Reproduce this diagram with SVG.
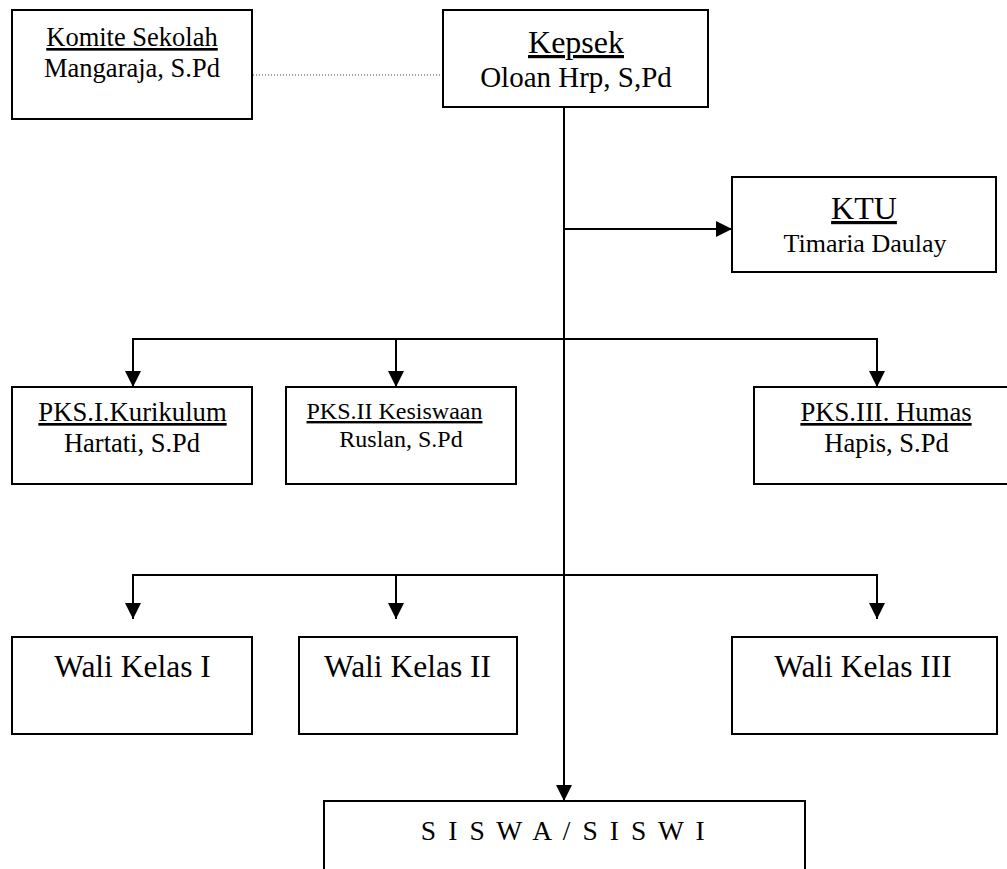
<svg xmlns="http://www.w3.org/2000/svg" width="1007" height="869" viewBox="0 0 1007 869">
<style>
.box{fill:#fff;stroke:#000;stroke-width:2}
.t{font-family:"Liberation Serif","Times New Roman",serif;fill:#000;text-anchor:middle}
.u{text-decoration:underline}
.c{fill:none;stroke:#000;stroke-width:2}
.dot{fill:none;stroke:#444;stroke-width:1;stroke-dasharray:1 2}
</style>
<defs>
<marker id="ah" markerUnits="userSpaceOnUse" markerWidth="16" markerHeight="16" refX="16" refY="8" orient="auto" viewBox="0 0 16 16">
<path d="M0,0 L16,8 L0,16 z" fill="#000"/>
</marker>
</defs>
<rect width="1007" height="869" fill="#fff"/>
<g id="connectors">
<path class="dot" d="M253,75 H443"/>
<path class="c" d="M564,107 V801" marker-end="url(#ah)"/>
<path class="c" d="M564,229 H732" marker-end="url(#ah)"/>
<path class="c" d="M564,339 H133 V387" marker-end="url(#ah)"/>
<path class="c" d="M396,339 V387" marker-end="url(#ah)"/>
<path class="c" d="M564,339 H877 V387" marker-end="url(#ah)"/>
<path class="c" d="M564,575 H133 V619" marker-end="url(#ah)"/>
<path class="c" d="M396,575 V619" marker-end="url(#ah)"/>
<path class="c" d="M564,575 H877 V619" marker-end="url(#ah)"/>
</g>
<g id="komite">
<rect class="box" x="12" y="10" width="240" height="109"/>
<text class="t u" x="132" y="46" font-size="26.5">Komite Sekolah</text>
<text class="t" x="132" y="77" font-size="26.5">Mangaraja, S.Pd</text>
</g>
<g id="kepsek">
<rect class="box" x="443" y="10" width="265" height="97"/>
<text class="t u" x="576" y="53" font-size="32">Kepsek</text>
<text class="t" x="576" y="87" font-size="29">Oloan Hrp, S,Pd</text>
</g>
<g id="ktu">
<rect class="box" x="732" y="177" width="264" height="95"/>
<text class="t u" x="864" y="219" font-size="32">KTU</text>
<text class="t" x="865" y="252" font-size="26">Timaria Daulay</text>
</g>
<g id="pks1">
<rect class="box" x="12" y="387" width="240" height="97"/>
<text class="t u" x="132.5" y="421" font-size="26.7">PKS.I.Kurikulum</text>
<text class="t" x="132" y="452" font-size="26.5">Hartati, S.Pd</text>
</g>
<g id="pks2">
<rect class="box" x="286" y="387" width="230" height="97"/>
<text class="t u" x="394.5" y="419" font-size="24">PKS.II Kesiswaan</text>
<text class="t" x="401" y="447" font-size="24">Ruslan, S.Pd</text>
</g>
<g id="pks3">
<rect class="box" x="754" y="387" width="262" height="97"/>
<text class="t u" x="886" y="421" font-size="26.7">PKS.III. Humas</text>
<text class="t" x="886.5" y="452" font-size="26.5">Hapis, S.Pd</text>
</g>
<g id="wali1">
<rect class="box" x="12" y="637" width="240" height="97"/>
<text class="t" x="132.5" y="677" font-size="31.5">Wali Kelas I</text>
</g>
<g id="wali2">
<rect class="box" x="299" y="637" width="218" height="97"/>
<text class="t" x="407.5" y="677" font-size="31.5">Wali Kelas II</text>
</g>
<g id="wali3">
<rect class="box" x="732" y="637" width="265" height="97"/>
<text class="t" x="863" y="677" font-size="31.5">Wali Kelas III</text>
</g>
<g id="siswa">
<rect class="box" x="324" y="801" width="481" height="80"/>
<text class="t" x="564" y="840" font-size="27.5" letter-spacing="2.6">S I S W A / S I S W I</text>
</g>
</svg>
